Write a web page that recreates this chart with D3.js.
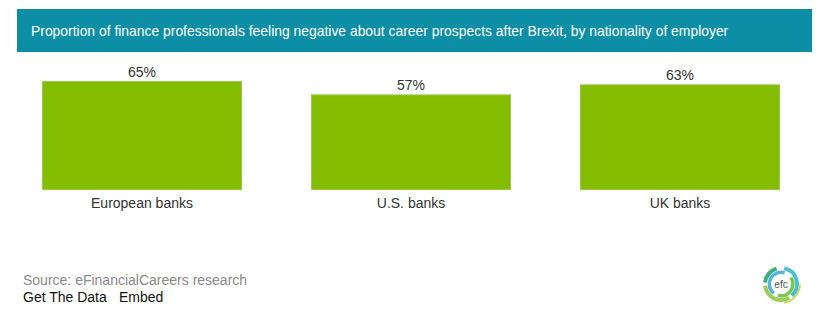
<!DOCTYPE html>
<html><head><meta charset="utf-8">
<script src="https://cdn.jsdelivr.net/npm/d3@7"></script>
<style>body{margin:0;background:#fff}svg{display:block}</style>
</head><body>
<script>
const categories = ["European banks", "U.S. banks", "UK banks"];
const values = [65, 57, 63];
const valueLabels = ["65%", "57%", "63%"];
const title = "Proportion of finance professionals feeling negative about career prospects after Brexit, by nationality of employer";
const source = "Source: eFinancialCareers research";

const W = 830, H = 330;
const svg = d3.select("body").append("svg").attr("width", W).attr("height", H);
const font = "Arial, 'Liberation Sans', sans-serif";

svg.append("rect").attr("x", 17).attr("y", 9).attr("width", 795).attr("height", 43).attr("fill", "#0C8EA7");
svg.append("text").attr("x", 31).attr("y", 36).attr("fill", "#fff").attr("font-family", font).attr("font-size", 13.9).text(title);

const pi = 69 / 269;
const x = d3.scaleBand().domain(categories).range([7.5, 814.5]).paddingInner(pi).paddingOuter(pi / 2);
const y = d3.scaleLinear().domain([0, 65]).range([190, 81]);

const g = svg.append("g");
g.selectAll("rect.bar").data(values).join("rect").attr("class", "bar")
  .attr("x", (d, i) => x(categories[i]) + 0.5)
  .attr("y", d => y(d) + 0.5)
  .attr("width", x.bandwidth() - 1)
  .attr("height", d => y(0) - y(d) - 1)
  .attr("fill", "#84BC00").attr("stroke", "#9AC84A").attr("stroke-width", 1);

g.selectAll("text.val").data(values).join("text").attr("class", "val")
  .attr("x", (d, i) => x(categories[i]) + x.bandwidth() / 2)
  .attr("y", d => y(d) - 4)
  .attr("text-anchor", "middle").attr("font-family", font).attr("font-size", 14).attr("fill", "#333")
  .text((d, i) => valueLabels[i]);

const xAxis = svg.append("g").attr("transform", "translate(0,190)")
  .call(d3.axisBottom(x).tickSize(0).tickPadding(8));
xAxis.select(".domain").remove();
xAxis.selectAll("text").attr("font-family", font).attr("font-size", 14).attr("fill", "#333");

svg.append("text").attr("x", 23).attr("y", 285).attr("font-family", font).attr("font-size", 14).attr("fill", "#8a8a8a").text(source);
svg.append("text").attr("x", 23).attr("y", 302).attr("font-family", font).attr("font-size", 14).attr("fill", "#111").text("Get The Data");
svg.append("text").attr("x", 119).attr("y", 302).attr("font-family", font).attr("font-size", 14).attr("fill", "#111").text("Embed");

// logo
const lg = svg.append("g").attr("transform", "translate(781,284)");
const arcs = [
  {r0: 14, r1: 18, a0: 0.2, a1: 2.4, c: "#2BB5C9"},
  {r0: 14, r1: 18, a0: 2.6, a1: 4.6, c: "#8CC63F"},
  {r0: 14, r1: 18, a0: 4.8, a1: 6.0, c: "#1E9E6A"},
  {r0: 10, r1: 13.5, a0: 1.0, a1: 3.4, c: "#5FBF2F"},
  {r0: 10, r1: 13.5, a0: 3.8, a1: 6.6, c: "#3AA7D6"},
  {r0: 18, r1: 20, a0: 1.6, a1: 3.0, c: "#B5D94A"}
];
const arcGen = d3.arc();
lg.selectAll("path").data(arcs).join("path")
  .attr("d", d => arcGen({innerRadius: d.r0, outerRadius: d.r1, startAngle: d.a0, endAngle: d.a1}))
  .attr("fill", d => d.c).attr("opacity", 0.85);
lg.append("circle").attr("r", 9.5).attr("fill", "#fff");
lg.append("text").attr("y", 3.5).attr("text-anchor", "middle").attr("font-family", font).attr("font-size", 10).attr("fill", "#555").text("efc");
</script>
</body></html>
